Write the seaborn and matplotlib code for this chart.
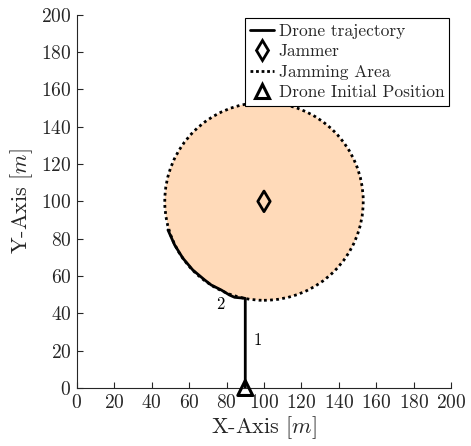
import numpy as np
import pandas as pd
import matplotlib
matplotlib.use("Agg")
import matplotlib.pyplot as plt
from matplotlib.patches import Circle
from matplotlib.lines import Line2D
import seaborn as sns

# Drone path: straight climb from the start, then along the jamming boundary
traj_x = [90.0, 90.0, 89.6, 84.3, 81.6, 77.2, 71.8, 68.3, 62.0, 56.7, 52.3, 48.7]
traj_y = [0.0, 48.0, 48.1, 48.6, 49.8, 52.5, 55.2, 57.9, 63.2, 69.5, 76.6, 84.7]

jammer_xy = (100.0, 100.0)
jamming_radius = 53.0
start_xy = (90.0, 0.0)

segment_labels = ["1", "2"]
segment_label_x = [96.5, 76.5]
segment_label_y = [25.5, 45.0]

ticks = list(range(0, 201, 20))

sns.set_theme(style="ticks")
plt.rcParams.update({
    "font.family": "serif",
    "font.serif": ["cmr10"],
    "mathtext.fontset": "cm",
    "axes.formatter.use_mathtext": True,
    "axes.unicode_minus": False,
})

fig = plt.figure(figsize=(4.71, 4.46), dpi=100)
ax = fig.add_axes([0.163, 0.130, 0.795, 0.837])

# Jamming area
area = Circle(jammer_xy, jamming_radius, facecolor="#FFDAB9", edgecolor="black",
              linestyle=(0, (1, 1.2)), linewidth=2.0, zorder=1)
ax.add_patch(area)

traj = pd.DataFrame({"x": traj_x, "y": traj_y})
sns.lineplot(data=traj, x="x", y="y", sort=False, estimator=None, color="black",
             linewidth=2.0, ax=ax, zorder=3)

sns.scatterplot(x=[jammer_xy[0]], y=[jammer_xy[1]], marker="d", s=110,
                facecolor="none", edgecolor="black", linewidth=2.0, ax=ax, zorder=4)
sns.scatterplot(x=[start_xy[0]], y=[start_xy[1]], marker="^", s=115,
                facecolor="none", edgecolor="black", linewidth=2.2, ax=ax, zorder=5,
                clip_on=False)

for t, lx, ly in zip(segment_labels, segment_label_x, segment_label_y):
    ax.text(lx, ly, t, fontsize=12, ha="center", va="center", color="black")

ax.set_xlim(0, 200)
ax.set_ylim(0, 200)
ax.set_xticks(ticks)
ax.set_yticks(ticks)
ax.tick_params(direction="in", length=4, width=0.8, labelsize=14, colors="#262626",
               labelcolor="#262626", pad=4)
for s in ("top", "right"):
    ax.spines[s].set_visible(False)
for s in ("left", "bottom"):
    ax.spines[s].set_color("#262626")
    ax.spines[s].set_linewidth(0.8)

ax.set_xlabel("X-Axis [$m$]", fontsize=16, color="#262626", labelpad=2)
ax.set_ylabel("Y-Axis [$m$]", fontsize=16, color="#262626", labelpad=4)

handles = [
    Line2D([], [], color="black", linewidth=2.0),
    Line2D([], [], color="black", marker="d", markersize=10, markerfacecolor="none",
           markeredgewidth=2.0, linestyle="none"),
    Line2D([], [], color="black", linewidth=2.0, linestyle=(0, (1, 1))),
    Line2D([], [], color="black", marker="^", markersize=10, markerfacecolor="none",
           markeredgewidth=2.2, linestyle="none"),
]
labels = ["Drone trajectory", "Jammer", "Jamming Area", "Drone Initial Position"]
leg = ax.legend(handles, labels, loc="upper right", bbox_to_anchor=(1.0, 0.995),
                fontsize=12.5, frameon=True, fancybox=False, framealpha=1,
                edgecolor="black", handlelength=1.4, handletextpad=0.25,
                borderpad=0.3, labelspacing=0.3, borderaxespad=0.1)
leg.get_frame().set_linewidth(0.8)

fig.savefig("out.png", dpi=100)
